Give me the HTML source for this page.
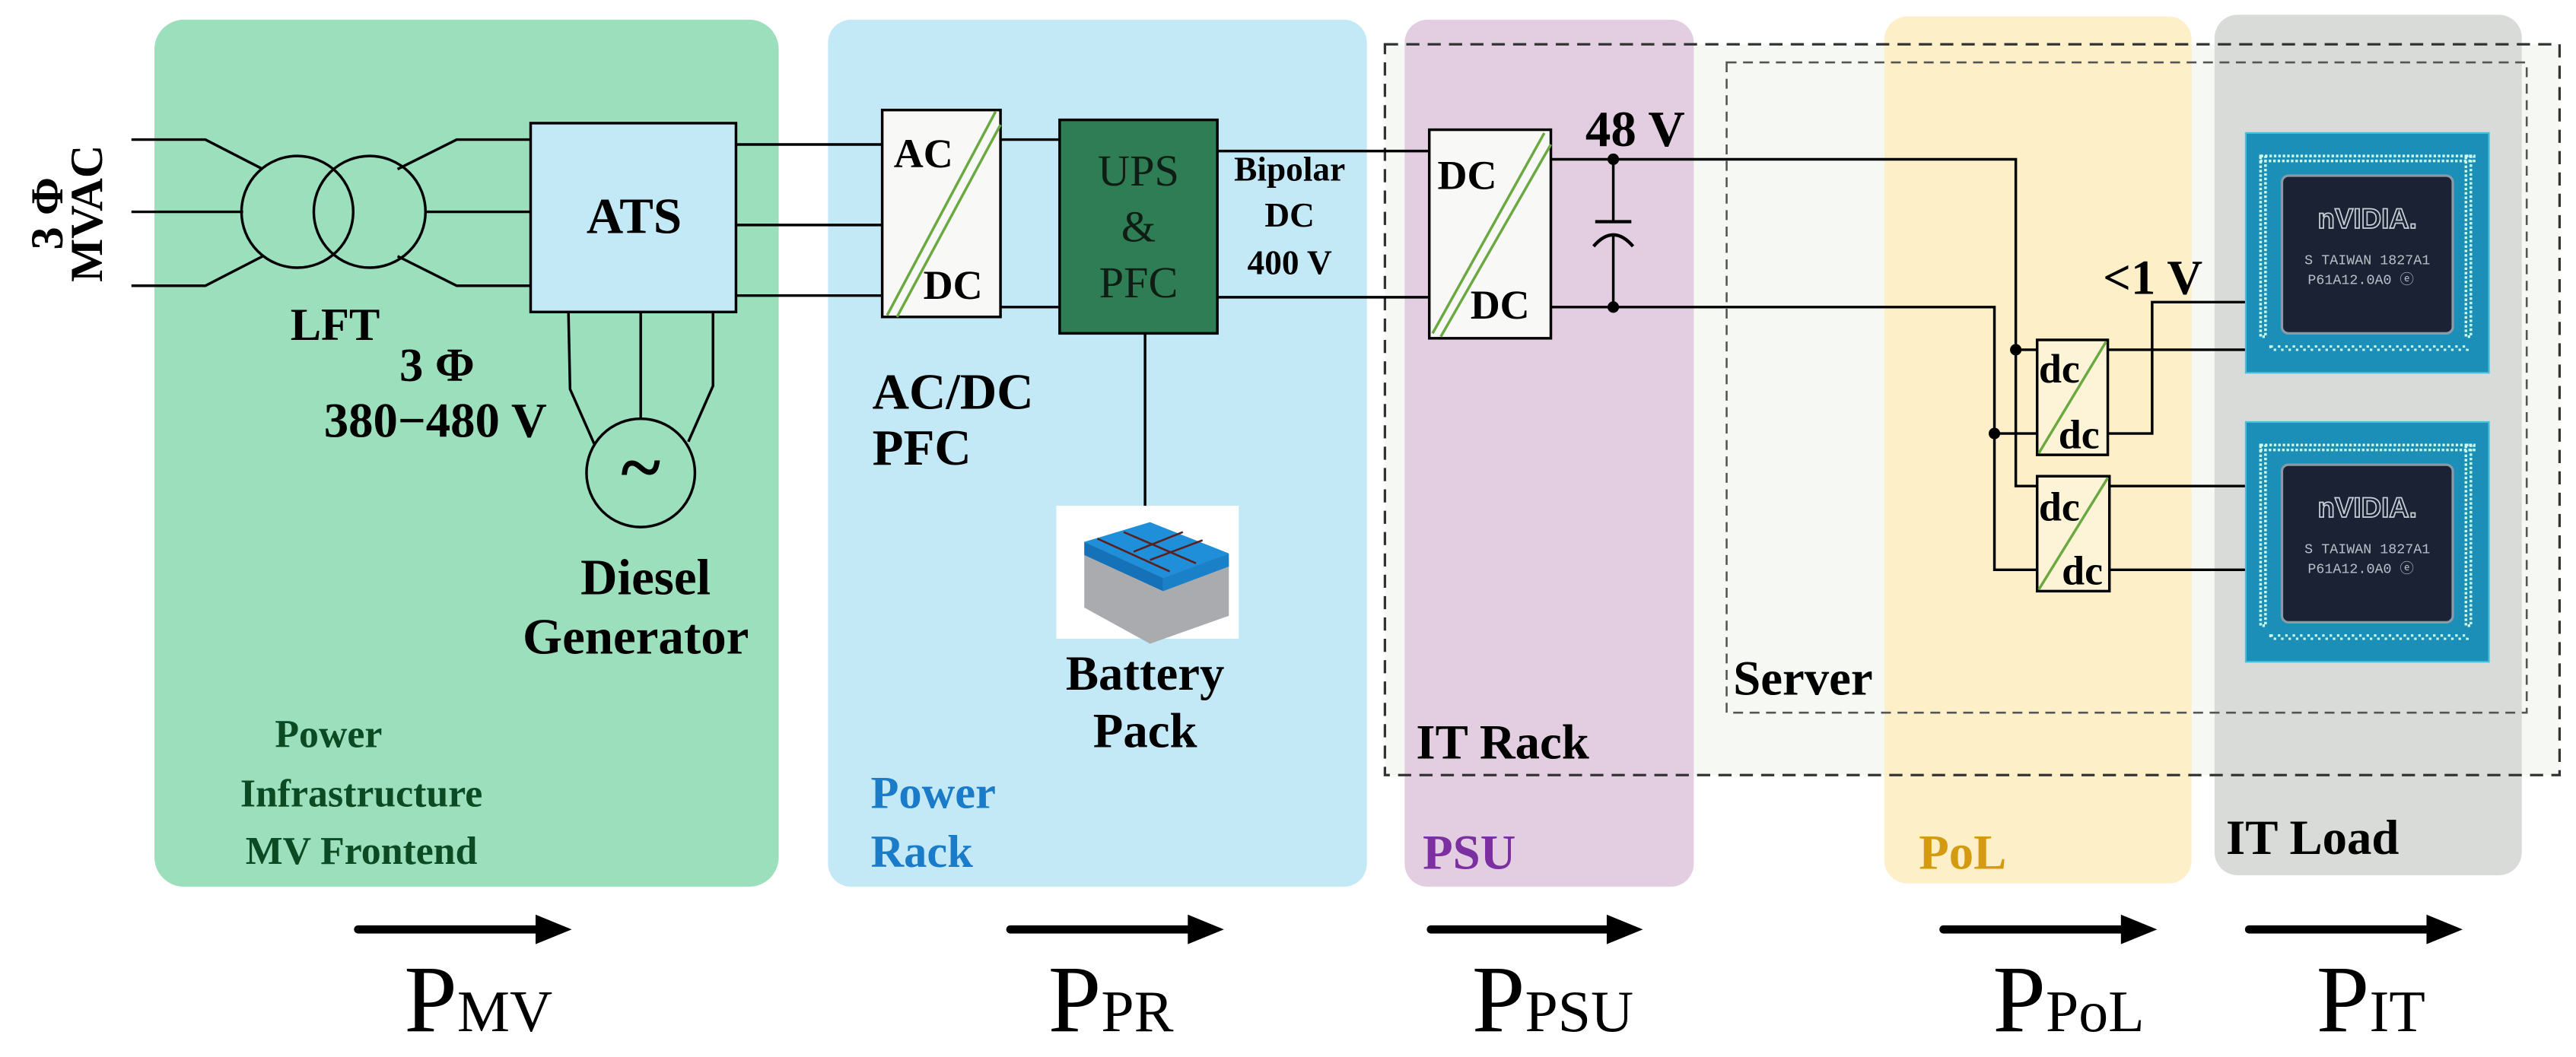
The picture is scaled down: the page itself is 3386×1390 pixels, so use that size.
<!DOCTYPE html>
<html><head><meta charset="utf-8"><style>
html,body{margin:0;padding:0;background:#fff}
svg{display:block}
text{font-family:"Liberation Serif",serif}
.b{font-weight:bold}
</style></head><body>
<svg width="3386" height="1390" viewBox="0 0 1568 643.7" preserveAspectRatio="none" xmlns="http://www.w3.org/2000/svg">
<defs>
<g id="chip">
<rect x="0" y="0" width="148" height="146" fill="#1c8fb8" stroke="#3fc0e0" stroke-width="1"/>
<rect x="9" y="14" width="130" height="3" fill="none" stroke="#cfe" stroke-width="1.6" stroke-dasharray="1.5 1.2"/>
<rect x="9" y="14" width="3" height="110" fill="none" stroke="#cfe" stroke-width="1.6" stroke-dasharray="1.5 1.2"/>
<rect x="134" y="14" width="3" height="110" fill="none" stroke="#cfe" stroke-width="1.6" stroke-dasharray="1.5 1.2"/>
<rect x="22" y="26" width="104" height="96" rx="4" fill="#1a2233" stroke="#8a9aa8" stroke-width="1.5"/>
<text x="74" y="58" style="font-family:'Liberation Sans',sans-serif" font-size="17" fill="none" stroke="#c8d0d8" stroke-width="0.8" text-anchor="middle" font-weight="bold">nVIDIA.</text>
<text x="74" y="80" style="font-family:'Liberation Mono',monospace" font-size="8.5" fill="#b8c0c8" text-anchor="middle">S TAIWAN 1827A1</text>
<text x="70" y="92" style="font-family:'Liberation Mono',monospace" font-size="8.5" fill="#b8c0c8" text-anchor="middle">P61A12.0A0  ⓔ</text>
<rect x="15" y="130" width="120" height="2" fill="none" stroke="#cfe" stroke-width="1.4" stroke-dasharray="1.5 3"/>
</g>
</defs>
<rect x="843" y="27" width="715" height="445" fill="#f6f9f3"/>
<rect x="94" y="12" width="380" height="528" rx="18" fill="#9bdfbc"/>
<rect x="504" y="12" width="328" height="528" rx="14" fill="#c3e9f7"/>
<rect x="855" y="12" width="176" height="528" rx="14" fill="#e2cee0"/>
<rect x="1147" y="10" width="187" height="528" rx="14" fill="#fdefc8"/>
<rect x="1348" y="9" width="187" height="524" rx="14" fill="#d8dbd8"/>
<rect x="843" y="27" width="715" height="445" fill="none" stroke="#333" stroke-width="1.5" stroke-dasharray="8 5"/>
<rect x="1051" y="38" width="487" height="396" fill="none" stroke="#555" stroke-width="1.2" stroke-dasharray="6 4"/>

<g stroke="#000" stroke-width="1.6" fill="none">
<polyline points="80,85 125,85 160,103"/>
<polyline points="80,129 148,129"/>
<polyline points="80,174 125,174 160,156"/>
<circle cx="181" cy="129" r="34"/>
<circle cx="225" cy="129" r="34"/>
<polyline points="242,103 278,85 323,85"/>
<polyline points="259,129 323,129"/>
<polyline points="242,156 278,174 323,174"/>
<polyline points="346,190 347,237 362,271"/>
<polyline points="390,190 390,255"/>
<polyline points="434,190 434,235 419,269"/>
<circle cx="390" cy="288" r="33"/>
<line x1="448" y1="88" x2="537" y2="88"/>
<line x1="448" y1="137" x2="537" y2="137"/>
<line x1="448" y1="180" x2="537" y2="180"/>
<line x1="609" y1="85" x2="645" y2="85"/>
<line x1="609" y1="187" x2="645" y2="187"/>
<line x1="741" y1="92" x2="870" y2="92"/>
<line x1="741" y1="181" x2="870" y2="181"/>
<line x1="697" y1="203" x2="697" y2="318"/>
<polyline points="944,97 1227,97 1227,296 1240,296"/>
<polyline points="944,187 1214,187 1214,347 1240,347"/>
<line x1="1227" y1="213" x2="1240" y2="213"/>
<line x1="1214" y1="264" x2="1240" y2="264"/>
<line x1="982" y1="97" x2="982" y2="135"/>
<line x1="982" y1="143" x2="982" y2="187"/>
<line x1="971" y1="135" x2="993" y2="135" stroke-width="2"/>
<path d="M970,150 Q982,136 994,150" stroke-width="2"/>
<line x1="1283" y1="213" x2="1367" y2="213"/>
<polyline points="1283,264 1310,264 1310,184 1367,184"/>
<line x1="1284" y1="296" x2="1367" y2="296"/>
<line x1="1284" y1="347" x2="1367" y2="347"/>
</g>
<g fill="#000">
<circle cx="982" cy="97" r="3.5"/><circle cx="982" cy="187" r="3.5"/>
<circle cx="1227" cy="213" r="3.5"/><circle cx="1214" cy="264" r="3.5"/>
</g>
<rect x="323" y="75" width="125" height="115" fill="#c3e9f7" stroke="#000" stroke-width="1.6"/>
<text x="386" y="142" font-size="31" class="b" text-anchor="middle">ATS</text>
<text x="390" y="300" font-size="46" class="b" text-anchor="middle">~</text>
<rect x="537" y="67" width="72" height="126" fill="#f8f8f6" stroke="#000" stroke-width="1.6"/>
<line x1="540" y1="192" x2="606" y2="68" stroke="#6aa840" stroke-width="1.6"/>
<line x1="546" y1="193" x2="609" y2="76" stroke="#6aa840" stroke-width="1.6"/>
<text x="544" y="102" font-size="25" class="b">AC</text>
<text x="562" y="182" font-size="25" class="b">DC</text>
<rect x="645" y="73" width="96" height="130" fill="#2e7d55" stroke="#000" stroke-width="1.6"/>
<g font-size="27" text-anchor="middle" fill="#0e1e14"><text x="693" y="113">UPS</text><text x="693" y="147">&amp;</text><text x="693" y="181">PFC</text></g>
<rect x="870" y="79" width="74" height="127" fill="#f8f8f6" stroke="#000" stroke-width="1.6"/>
<line x1="872" y1="203" x2="940" y2="81" stroke="#6aa840" stroke-width="1.6"/>
<line x1="877" y1="205" x2="944" y2="88" stroke="#6aa840" stroke-width="1.6"/>
<text x="875" y="115" font-size="25" class="b">DC</text>
<text x="895" y="194" font-size="25" class="b">DC</text>
<rect x="1240" y="207" width="43" height="70" fill="#fdf3d6" stroke="#000" stroke-width="1.6"/>
<line x1="1241" y1="276" x2="1282" y2="208" stroke="#6aa840" stroke-width="1.6"/>
<rect x="1240" y="290" width="44" height="70" fill="#fdf3d6" stroke="#000" stroke-width="1.6"/>
<line x1="1241" y1="359" x2="1283" y2="291" stroke="#6aa840" stroke-width="1.6"/>
<g font-size="25" class="b"><text x="1241" y="233">dc</text><text x="1253" y="273">dc</text><text x="1241" y="317">dc</text><text x="1255" y="356">dc</text></g>
<use href="#chip" x="1367" y="81"/>
<use href="#chip" x="1367" y="257"/>
<rect x="643" y="308" width="111" height="81" fill="#fff"/>
<path d="M660,330 L700,320 L748,340 L748,375 L700,392 L660,370 Z" fill="#a9abae"/>
<path d="M660,330 L700,318 L748,337 L708,352 Z" fill="#1e8fd8"/>
<path d="M660,330 L708,352 L708,360 L660,338 Z" fill="#1572b8"/>
<path d="M708,352 L748,337 L748,345 L708,360 Z" fill="#1a80c8"/>
<g stroke="#5a2020" stroke-width="1.2"><line x1="668" y1="328" x2="712" y2="348"/><line x1="684" y1="324" x2="728" y2="343"/><line x1="690" y1="336" x2="720" y2="324"/><line x1="700" y1="341" x2="732" y2="329"/></g>
<g class="b">
<text transform="translate(38,130) rotate(-90)" font-size="28" text-anchor="middle">3 Φ</text>
<text transform="translate(62,130) rotate(-90)" font-size="28" text-anchor="middle">MVAC</text>
<text x="204" y="207" font-size="28" text-anchor="middle">LFT</text>
<text x="266" y="232" font-size="29" text-anchor="middle">3 Φ</text>
<text x="265" y="266" font-size="30" text-anchor="middle">380−480 V</text>
<text x="393" y="362" font-size="31" text-anchor="middle">Diesel</text>
<text x="387" y="398" font-size="31" text-anchor="middle">Generator</text>
<g fill="#0b4a22" font-size="24" text-anchor="middle"><text x="200" y="455">Power</text><text x="220" y="491">Infrastructure</text><text x="220" y="526">MV Frontend</text></g>
<text x="531" y="249" font-size="31">AC/DC</text>
<text x="531" y="283" font-size="31">PFC</text>
<g font-size="21" text-anchor="middle"><text x="785" y="110">Bipolar</text><text x="785" y="138">DC</text><text x="785" y="167">400 V</text></g>
<text x="697" y="420" font-size="30" text-anchor="middle">Battery</text>
<text x="697" y="455" font-size="30" text-anchor="middle">Pack</text>
<g fill="#1a7bc8" font-size="28"><text x="530" y="492">Power</text><text x="530" y="528">Rack</text></g>
<text x="965" y="89" font-size="31">48 V</text>
<text x="1280" y="179" font-size="30">&lt;1 V</text>
<text x="1055" y="423" font-size="30">Server</text>
<text x="862" y="462" font-size="30">IT Rack</text>
<text x="866" y="529" font-size="30" fill="#7b2fa0">PSU</text>
<text x="1168" y="529" font-size="30" fill="#d49a10">PoL</text>
<text x="1355" y="520" font-size="30">IT Load</text>
</g>
<g stroke="#000" stroke-width="5" stroke-linecap="round">
<line x1="218" y1="566" x2="330" y2="566"/><line x1="615" y1="566" x2="727" y2="566"/>
<line x1="871" y1="566" x2="982" y2="566"/><line x1="1183" y1="566" x2="1295" y2="566"/>
<line x1="1369" y1="566" x2="1481" y2="566"/>
</g>
<g fill="#000">
<polygon points="326,557 348,566 326,575"/><polygon points="723,557 745,566 723,575"/>
<polygon points="978,557 1000,566 978,575"/><polygon points="1291,557 1313,566 1291,575"/>
<polygon points="1477,557 1499,566 1477,575"/>
</g>
<g font-size="58">
<text x="246" y="628">P<tspan font-size="36">MV</tspan></text>
<text x="638" y="628">P<tspan font-size="36">PR</tspan></text>
<text x="896" y="628">P<tspan font-size="36">PSU</tspan></text>
<text x="1213" y="628">P<tspan font-size="36">PoL</tspan></text>
<text x="1410" y="628">P<tspan font-size="36">IT</tspan></text>
</g>
</svg>
</body></html>
